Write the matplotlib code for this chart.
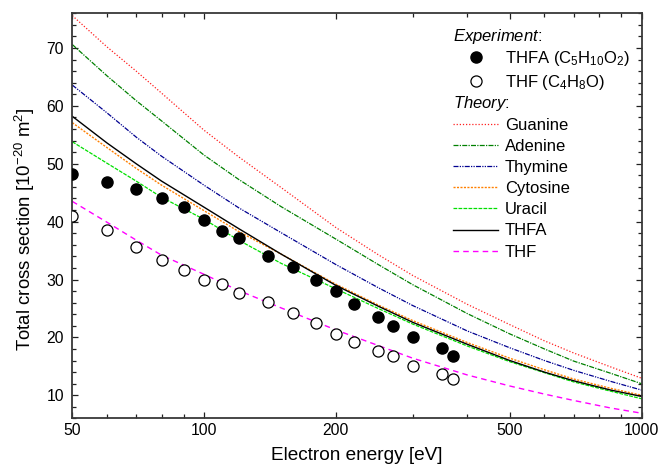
import matplotlib
matplotlib.use("Agg")
import matplotlib.pyplot as plt
from matplotlib.lines import Line2D
from matplotlib.ticker import FixedLocator, NullFormatter, MultipleLocator

plt.rcParams['font.family'] = ['Liberation Sans', 'DejaVu Sans']
plt.rcParams['mathtext.fontset'] = 'custom'
plt.rcParams['mathtext.rm'] = 'Liberation Sans'
plt.rcParams['mathtext.it'] = 'Liberation Sans:italic'

# ---- data ----
e_exp = [50, 60, 70, 80, 90, 100, 110, 120, 140, 160, 180, 200, 220, 250, 270, 300, 350, 370]
thfa_exp = [48.2, 46.8, 45.7, 44.1, 42.5, 40.3, 38.4, 37.2, 34.1, 32.2, 30.0, 28.1, 25.8, 23.5,
            21.9, 20.1, 18.2, 16.7]
thf_exp = [41.0, 38.5, 35.6, 33.4, 31.6, 30.0, 29.2, 27.6, 26.1, 24.2, 22.4, 20.5, 19.2, 17.6,
           16.7, 15.1, 13.7, 12.8]

e_th = [50, 60, 70, 80, 100, 120, 150, 200, 250, 300, 400, 500, 600, 700, 850, 1000]
guanine = [75.6, 70.2, 66.0, 62.2, 55.8, 51.2, 45.9, 39.0, 34.3, 30.7, 25.7, 22.2, 19.4, 17.3,
           14.9, 12.95]
adenine = [70.6, 65.2, 60.9, 57.4, 51.5, 47.3, 42.6, 37.0, 32.6, 29.1, 24.1, 20.6, 18.0, 15.9,
           13.8, 12.0]
thymine = [63.6, 58.8, 54.6, 51.3, 46.3, 42.4, 38.1, 32.6, 28.6, 25.5, 21.1, 18.2, 16.0, 14.3,
           12.4, 10.9]
cytosine = [57.1, 52.8, 49.2, 46.3, 41.9, 38.3, 34.4, 29.2, 25.6, 22.9, 19.1, 16.4, 14.4, 12.8,
            11.2, 10.0]
uracil = [53.8, 50.1, 47.0, 44.2, 40.4, 36.8, 32.8, 28.4, 25.0, 22.3, 18.5, 15.8, 13.9, 12.3,
          10.7, 9.4]
thfa_th = [58.2, 53.6, 50.0, 47.0, 42.5, 38.8, 34.4, 29.0, 25.4, 22.6, 18.8, 16.0, 14.0, 12.5,
           10.9, 9.8]
thf_th = [43.5, 39.9, 36.8, 34.2, 30.9, 28.1, 25.1, 21.3, 18.6, 16.4, 13.5, 11.6, 10.2, 9.1,
          7.8, 6.9]

x_major = [50, 100, 200, 500, 1000]
x_minor = [60, 70, 80, 90, 300, 400, 600, 700, 800, 900]

# ---- figure ----
fig = plt.figure(figsize=(6.59, 4.68), dpi=100)
ax = fig.add_axes([72.3 / 659, 1 - 418.4 / 468, (641.5 - 72.3) / 659, (418.4 - 13.3) / 468])

th_styles = [
    (guanine, 'Guanine', '#ff2020', (0, (1, 1.5)), 0.9),
    (adenine, 'Adenine', '#008000', (0, (4, 1, 1, 1)), 0.9),
    (thymine, 'Thymine', '#000090', (0, (4, 1, 1, 1, 1, 1)), 0.9),
    (cytosine, 'Cytosine', '#ff8000', (0, (1.5, 1)), 1.0),
    (uracil, 'Uracil', '#00e000', (0, (3, 1)), 0.9),
    (thfa_th, 'THFA', '#000000', '-', 1.0),
    (thf_th, 'THF', '#ff00ff', (0, (4, 3)), 1.0),
]
th_handles = []
for vals, name, col, ls, lw in th_styles:
    h, = ax.plot(e_th, vals, color=col, ls=ls, lw=lw, label=name)
    th_handles.append(h)

h_thfa, = ax.plot(e_exp, thfa_exp, 'o', color='black', ms=8, ls='none', zorder=5)
h_thf, = ax.plot(e_exp, thf_exp, 'o', mfc='white', mec='black', mew=0.9, ms=8, ls='none', zorder=5)

ax.set_xscale('log')
ax.set_xlim(50, 1000)
ax.set_ylim(6, 76)
ax.xaxis.set_major_locator(FixedLocator(x_major))
ax.xaxis.set_minor_locator(FixedLocator(x_minor))
ax.xaxis.set_minor_formatter(NullFormatter())
ax.set_xticklabels([str(v) for v in x_major])
ax.yaxis.set_major_locator(MultipleLocator(10))
ax.yaxis.set_minor_locator(MultipleLocator(2))

ax.tick_params(which='both', direction='in', top=True, right=True, colors='#202020',
               labelcolor='black', labelsize=11.3)
ax.tick_params(which='major', length=4.5, width=0.9)
ax.tick_params(which='minor', length=2.6, width=0.9)
ax.tick_params(axis='y', pad=6)
for s in ax.spines.values():
    s.set_color('#383838')
    s.set_linewidth(1.3)

ax.set_xlabel('Electron energy [eV]', fontsize=13.7, labelpad=6)
ax.set_ylabel(r'Total cross section [10$^{\mathregular{-20}}$ m$^{\mathregular{2}}$]',
              fontsize=13.4)
ax.yaxis.set_label_coords(-0.062, 0.467)

common = dict(loc='upper left', bbox_transform=fig.transFigure, frameon=False, fontsize=12,
              handlelength=2.7, handletextpad=0.4, borderpad=0, borderaxespad=0)
blank = Line2D([], [], ls='none')
exp_labels = [' ', r'THFA (C$_{\mathregular{5}}$H$_{\mathregular{10}}$O$_{\mathregular{2}}$)',
              r'THF (C$_{\mathregular{4}}$H$_{\mathregular{8}}$O)']
leg1 = ax.legend([blank, h_thfa, h_thf], exp_labels, bbox_to_anchor=(453 / 659, 1 - 29 / 468),
                 labelspacing=0.31, **common)
ax.add_artist(leg1)
leg2 = ax.legend([blank] + th_handles, [' '] + [h.get_label() for h in th_handles],
                 bbox_to_anchor=(453 / 659, 1 - 96.5 / 468), labelspacing=0.37, **common)

fig.canvas.draw()
inv = fig.transFigure.inverted()
for leg, title in [(leg1, 'Experiment'), (leg2, 'Theory')]:
    bb = leg.get_texts()[0].get_window_extent()
    yc = inv.transform((0, (bb.y0 + bb.y1) / 2))[1]
    fig.text(453 / 659, yc, r'$\mathit{%s}$:' % title, fontsize=12, va='center', ha='left')

fig.savefig('out.png', dpi=100)
